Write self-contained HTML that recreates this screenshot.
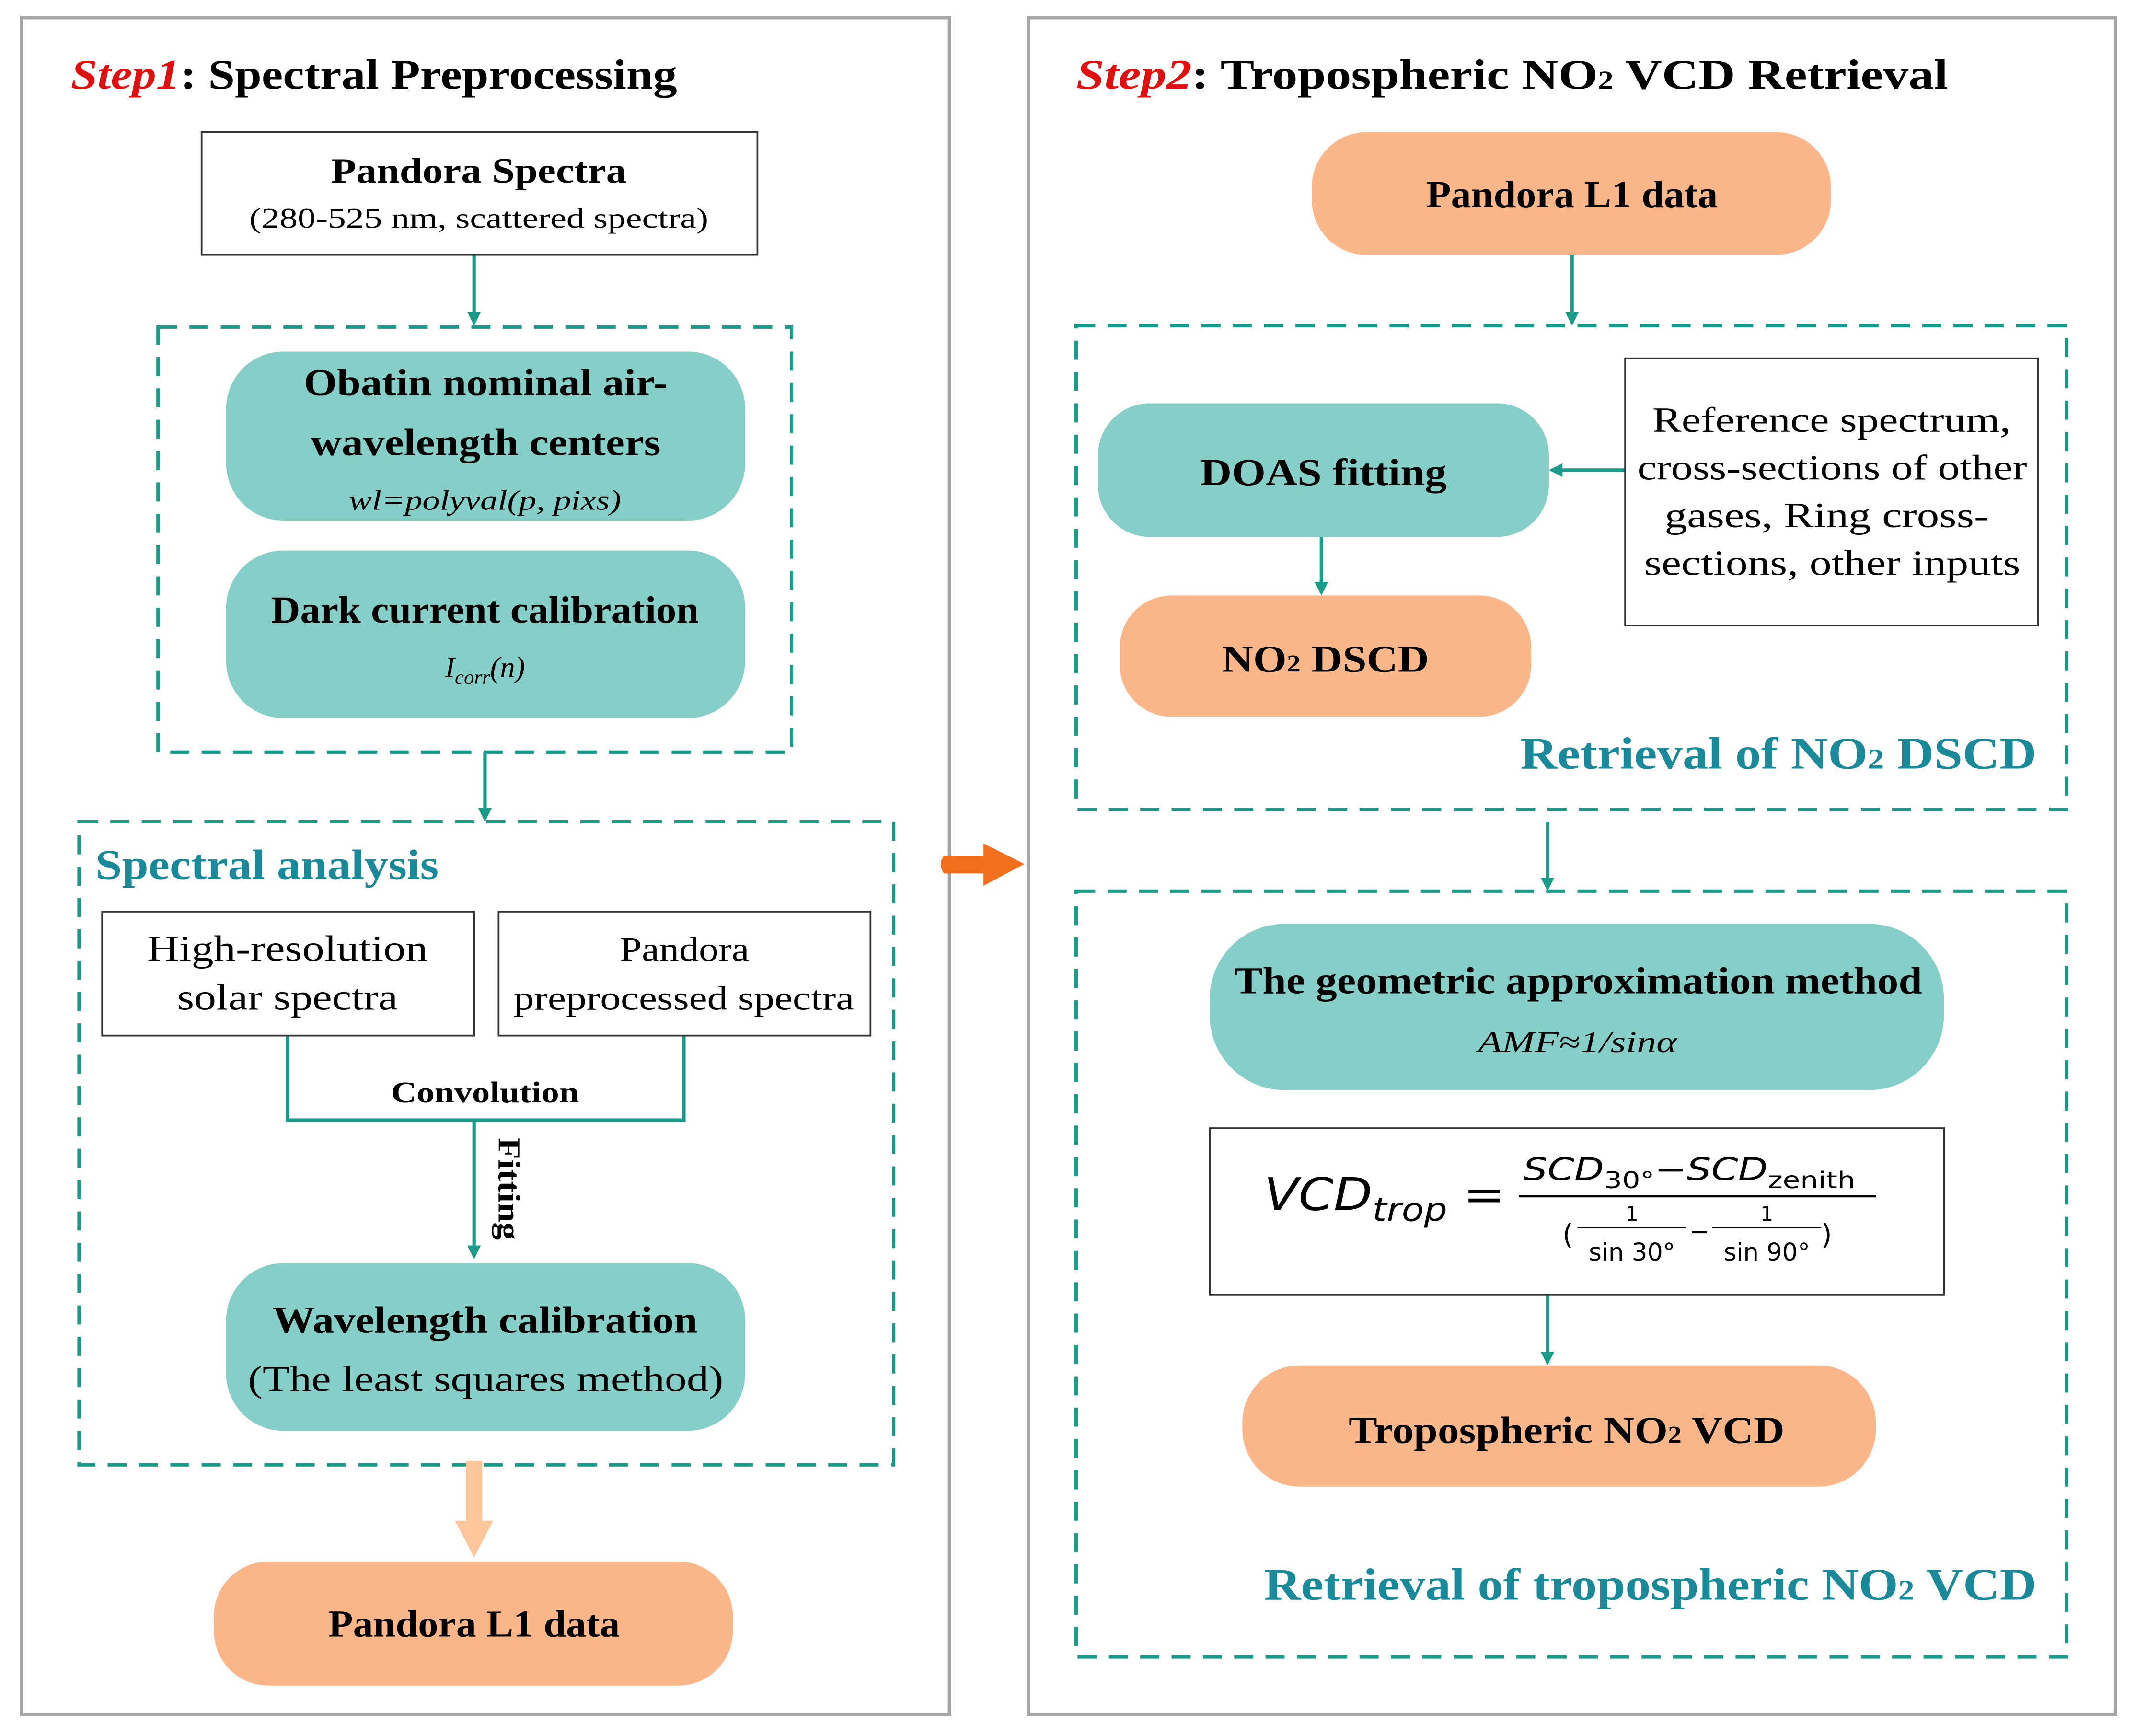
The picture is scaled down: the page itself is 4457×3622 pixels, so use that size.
<!DOCTYPE html>
<html><head><meta charset="utf-8"><style>html,body{margin:0;padding:0;background:#fff}svg{display:block}</style></head>
<body>
<svg width="4457" height="3622" viewBox="0 0 1568 1274" preserveAspectRatio="none" xmlns="http://www.w3.org/2000/svg" font-family="Liberation Serif, serif">
<defs>
<marker id="ah" markerWidth="10" markerHeight="10" refX="8" refY="5" orient="auto" markerUnits="userSpaceOnUse"><path d="M0,0 L10,5 L0,10 z" fill="#1a9a88"/></marker>
</defs>
<rect width="1568" height="1274" fill="#fff"/>
<rect x="16" y="13" width="681" height="1245" fill="none" stroke="#a6a6a6" stroke-width="2.5"/>
<rect x="755" y="13" width="798" height="1245" fill="none" stroke="#a6a6a6" stroke-width="2.5"/>
<text x="52" y="65" font-size="31" font-weight="bold" textLength="445" lengthAdjust="spacingAndGlyphs"><tspan fill="#e01010" font-style="italic">Step1</tspan><tspan fill="#000">: Spectral Preprocessing</tspan></text>
<text x="790" y="65" font-size="31" font-weight="bold" textLength="640" lengthAdjust="spacingAndGlyphs"><tspan fill="#e01010" font-style="italic">Step2</tspan><tspan fill="#000">: Tropospheric NO</tspan><tspan fill="#000" font-size="19">2</tspan><tspan fill="#000"> VCD Retrieval</tspan></text>

<g stroke="#1a9a88" stroke-width="2.5" fill="none">
<rect x="116" y="240" width="465" height="312" stroke-dasharray="14,9"/>
<rect x="58" y="603" width="598" height="472" stroke-dasharray="14,9"/>
<rect x="790" y="239" width="727" height="355" stroke-dasharray="14,9"/>
<rect x="790" y="654" width="727" height="562" stroke-dasharray="14,9"/>
<line x1="348" y1="187" x2="348" y2="237" marker-end="url(#ah)"/>
<line x1="356" y1="552" x2="356" y2="601" marker-end="url(#ah)"/>
<polyline points="211,760 211,822 502,822 502,760"/>
<line x1="348" y1="822" x2="348" y2="922" marker-end="url(#ah)"/>
<line x1="1154" y1="187" x2="1154" y2="237" marker-end="url(#ah)"/>
<line x1="1193" y1="345" x2="1139" y2="345" marker-end="url(#ah)"/>
<line x1="970" y1="394" x2="970" y2="435" marker-end="url(#ah)"/>
<line x1="1136" y1="603" x2="1136" y2="652" marker-end="url(#ah)"/>
<line x1="1136" y1="950" x2="1136" y2="1000" marker-end="url(#ah)"/>
</g>

<g fill="#fff" stroke="#333" stroke-width="1.3">
<rect x="148" y="97" width="408" height="90"/>
<rect x="75" y="669" width="273" height="91"/>
<rect x="366" y="669" width="273" height="91"/>
<rect x="1193" y="263" width="303" height="196"/>
<rect x="888" y="828" width="539" height="122"/>
</g>

<g fill="#86cfc8">
<rect x="166" y="258" width="381" height="124" rx="42"/>
<rect x="166" y="404" width="381" height="123" rx="42"/>
<rect x="166" y="927" width="381" height="123" rx="42"/>
<rect x="806" y="296" width="331" height="98" rx="38"/>
<rect x="888" y="678" width="539" height="122" rx="55"/>
</g>
<g fill="#fbb78a">
<rect x="157" y="1146" width="381" height="91" rx="40"/>
<rect x="963" y="97" width="381" height="90" rx="40"/>
<rect x="822" y="437" width="302" height="89" rx="38"/>
<rect x="912" y="1002" width="465" height="89" rx="42"/>
</g>

<rect x="342" y="1072" width="12" height="45" fill="#fdc79b"/>
<path d="M334,1116 L362,1116 L348,1143 z" fill="#fdc79b"/>
<path d="M693,628 L722,628 L722,619 L752,634 L722,650 L722,641 L693,641 Q688,634 693,628 z" fill="#f26f1e"/>

<g fill="#000">
<text x="243" y="134" font-size="26" font-weight="bold" textLength="217" lengthAdjust="spacingAndGlyphs">Pandora  Spectra</text>
<text x="183" y="167" font-size="21" textLength="337" lengthAdjust="spacingAndGlyphs">(280-525 nm, scattered spectra)</text>
<text x="223" y="290" font-size="28" font-weight="bold" textLength="267" lengthAdjust="spacingAndGlyphs">Obatin nominal air-</text>
<text x="228" y="334" font-size="28" font-weight="bold" textLength="257" lengthAdjust="spacingAndGlyphs">wavelength centers</text>
<text x="256" y="374" font-size="21" font-style="italic" textLength="200" lengthAdjust="spacingAndGlyphs">wl=polyval(p, pixs)</text>
<text x="199" y="457" font-size="28" font-weight="bold" textLength="314" lengthAdjust="spacingAndGlyphs">Dark current calibration</text>
<text x="356" y="497" font-size="22" font-style="italic" text-anchor="middle">I<tspan font-size="15" dy="5">corr</tspan><tspan dy="-5">(n)</tspan></text>
<text x="108" y="705" font-size="27" textLength="206" lengthAdjust="spacingAndGlyphs">High-resolution</text>
<text x="130" y="741" font-size="27" textLength="162" lengthAdjust="spacingAndGlyphs">solar spectra</text>
<text x="455" y="705" font-size="25" textLength="95" lengthAdjust="spacingAndGlyphs">Pandora</text>
<text x="377" y="741" font-size="25" textLength="250" lengthAdjust="spacingAndGlyphs">preprocessed  spectra</text>
<text x="287" y="809" font-size="22" font-weight="bold" textLength="138" lengthAdjust="spacingAndGlyphs">Convolution</text>
<text transform="translate(366,835) rotate(90)" font-size="23" font-weight="bold" textLength="75" lengthAdjust="spacingAndGlyphs">Fitting</text>
<text x="200" y="978" font-size="28" font-weight="bold" textLength="312" lengthAdjust="spacingAndGlyphs">Wavelength calibration</text>
<text x="182" y="1021" font-size="27" textLength="349" lengthAdjust="spacingAndGlyphs">(The least squares method)</text>
<text x="241" y="1201" font-size="28" font-weight="bold" textLength="214" lengthAdjust="spacingAndGlyphs">Pandora L1 data</text>
<text x="1047" y="152" font-size="28" font-weight="bold" textLength="214" lengthAdjust="spacingAndGlyphs">Pandora L1 data</text>
<text x="881" y="356" font-size="28" font-weight="bold" textLength="181" lengthAdjust="spacingAndGlyphs">DOAS fitting</text>
<text x="1213" y="317" font-size="26" textLength="263" lengthAdjust="spacingAndGlyphs">Reference spectrum,</text>
<text x="1202" y="352" font-size="26" textLength="286" lengthAdjust="spacingAndGlyphs">cross-sections of other</text>
<text x="1222" y="387" font-size="26" textLength="238" lengthAdjust="spacingAndGlyphs">gases, Ring cross-</text>
<text x="1207" y="422" font-size="26" textLength="276" lengthAdjust="spacingAndGlyphs">sections, other inputs</text>
<text x="897" y="493" font-size="28" font-weight="bold" textLength="152" lengthAdjust="spacingAndGlyphs">NO<tspan font-size="18">2</tspan> DSCD</text>
<text x="906" y="729" font-size="28" font-weight="bold" textLength="505" lengthAdjust="spacingAndGlyphs">The geometric approximation method</text>
<text x="1085" y="772" font-size="22" font-style="italic" textLength="146" lengthAdjust="spacingAndGlyphs">AMF≈1/sinα</text>
<text x="990" y="1059" font-size="28" font-weight="bold" textLength="320" lengthAdjust="spacingAndGlyphs">Tropospheric NO<tspan font-size="18">2</tspan> VCD</text>
</g>
<g font-family="DejaVu Sans, sans-serif" fill="#000">
<text x="928" y="888" font-size="33" font-style="italic" textLength="177" lengthAdjust="spacingAndGlyphs">VCD<tspan font-size="24" dy="8">trop</tspan><tspan dy="-8" font-style="normal"> =</tspan></text>
<text x="1118" y="866" font-size="23" font-style="italic" textLength="244" lengthAdjust="spacingAndGlyphs">SCD<tspan font-size="17" dy="6" font-style="normal">30°</tspan><tspan dy="-6" font-style="normal">−</tspan>SCD<tspan font-size="17" dy="6" font-style="normal">zenith</tspan></text>
<line x1="1115" y1="878" x2="1377" y2="878" stroke="#000" stroke-width="1.5"/>
<text x="1147" y="913" font-size="20">(</text>
<text x="1198" y="896" font-size="15" text-anchor="middle">1</text>
<line x1="1158" y1="901" x2="1238" y2="901" stroke="#000" stroke-width="1"/>
<text x="1198" y="925" font-size="18" text-anchor="middle">sin 30°</text>
<text x="1240" y="910" font-size="18">−</text>
<text x="1297" y="896" font-size="15" text-anchor="middle">1</text>
<line x1="1257" y1="901" x2="1337" y2="901" stroke="#000" stroke-width="1"/>
<text x="1297" y="925" font-size="18" text-anchor="middle">sin 90°</text>
<text x="1337" y="913" font-size="20">)</text>
</g>
<g fill="#1a8a9a" font-weight="bold">
<text x="70" y="645" font-size="31" textLength="252" lengthAdjust="spacingAndGlyphs">Spectral analysis</text>
<text x="1116" y="564" font-size="33" textLength="379" lengthAdjust="spacingAndGlyphs">Retrieval of NO<tspan font-size="21">2</tspan> DSCD</text>
<text x="928" y="1174" font-size="33" textLength="567" lengthAdjust="spacingAndGlyphs">Retrieval of tropospheric NO<tspan font-size="21">2</tspan> VCD</text>
</g>
</svg>
</body></html>
